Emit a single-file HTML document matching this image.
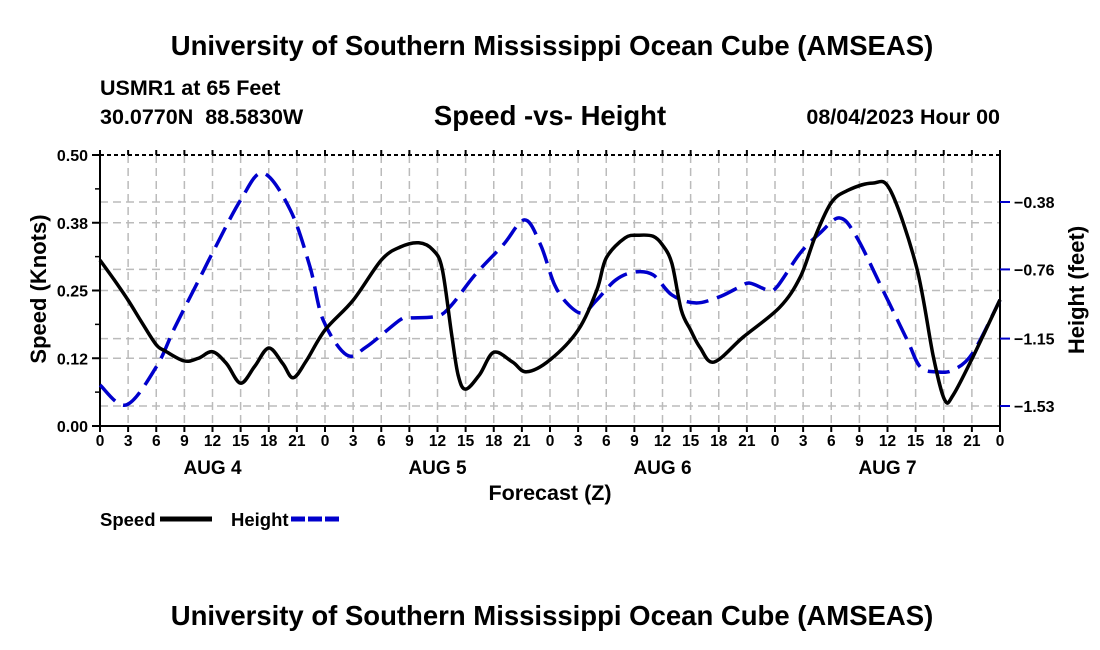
<!DOCTYPE html>
<html><head><meta charset="utf-8"><style>
body{margin:0;background:#fff;}
svg{display:block;font-family:"Liberation Sans",Arial,sans-serif;font-weight:bold;}
</style></head><body>
<svg id="chart" width="1100" height="650" viewBox="0 0 1100 650">
<text x="552" y="55" text-anchor="middle" font-size="27.5">University of Southern Mississippi Ocean Cube (AMSEAS)</text>
<text x="100" y="95" font-size="21.5">USMR1 at 65 Feet</text>
<text x="100" y="124" font-size="21.5" xml:space="preserve">30.0770N  88.5830W</text>
<text x="550" y="125" text-anchor="middle" font-size="27.5">Speed -vs- Height</text>
<text x="1000" y="124" text-anchor="end" font-size="21.5">08/04/2023 Hour 00</text>
<g id="grid"></g><g id="axes"></g><g id="series"></g>
<text x="550" y="500" text-anchor="middle" font-size="21.5">Forecast (Z)</text>
<text transform="translate(46,289) rotate(-90)" text-anchor="middle" font-size="22">Speed (Knots)</text>
<text transform="translate(1084,290) rotate(-90)" text-anchor="middle" font-size="22">Height (feet)</text>
<g>
<text x="100" y="526" font-size="18.5">Speed</text>
<line x1="160" y1="519" x2="212" y2="519" stroke="#000" stroke-width="5"/>
<text x="231" y="526" font-size="18.5">Height</text>
<line x1="291" y1="519" x2="342" y2="519" stroke="#00c" stroke-width="5" stroke-dasharray="14,3"/>
</g>
<text x="552" y="625" text-anchor="middle" font-size="27.5">University of Southern Mississippi Ocean Cube (AMSEAS)</text>
</svg>
<script>
const speedHours=[0,1.5,3,4.5,6,7,9,10.5,12,13.5,15,16.5,18,19.5,20.6,22,24,27,30,32,34,35.5,36.5,37.5,38.2,39,40.5,42,44,45.5,48,51,53,54,56,57.5,59,60,61,62,63,64,65.5,68.6,72.5,74.7,76.3,78,79.8,82.4,84.3,87.1,88.9,90.1,91,93.1,96];
const speedValues=[0.306,0.27,0.232,0.19,0.15,0.138,0.12,0.125,0.137,0.115,0.079,0.11,0.144,0.115,0.089,0.12,0.177,0.232,0.306,0.33,0.338,0.325,0.29,0.17,0.094,0.068,0.095,0.136,0.118,0.1,0.122,0.177,0.251,0.31,0.347,0.352,0.35,0.334,0.3,0.214,0.177,0.145,0.118,0.164,0.219,0.275,0.35,0.412,0.435,0.448,0.435,0.293,0.127,0.048,0.057,0.127,0.233];
const heightHours=[0,2.8,6,8,10.7,12,15,17.4,20.3,22.4,23.8,26.3,28.4,32,33,36,37.5,40,43,45.3,47,48.5,50,51.5,53,55,57,59,61,63.5,66,68,69.3,71.2,72.2,74.7,76.8,78.9,80.7,83.5,86.1,87.5,89.3,91,93.1,96];
const heightValues=[-1.412,-1.524,-1.31,-1.085,-0.803,-0.667,-0.369,-0.217,-0.425,-0.746,-1.045,-1.242,-1.197,-1.045,-1.034,-1.023,-0.961,-0.791,-0.622,-0.481,-0.622,-0.848,-0.961,-1.006,-0.932,-0.82,-0.775,-0.791,-0.904,-0.949,-0.916,-0.865,-0.837,-0.876,-0.859,-0.667,-0.555,-0.47,-0.577,-0.876,-1.158,-1.31,-1.338,-1.327,-1.231,-0.932];
const speedTicks=[0,0.125,0.25,0.375,0.5];
const speedTickLabels=["0.00","0.12","0.25","0.38","0.50"];
const heightTicks=[-0.38,-0.76,-1.15,-1.53];
const heightTickLabels=["\u22120.38","\u22120.76","\u22121.15","\u22121.53"];
const dayLabels=["AUG 4","AUG 5","AUG 6","AUG 7"];

const X0=100,X1=1000,Y0=426,Y1=155;
const xS=h=>X0+(h/96)*(X1-X0);
const yS=v=>Y0-(v/0.5)*(Y0-Y1);
const yH=v=>202+(v-(-0.38))/(-1.53+0.38)*(406-202);
const NS="http://www.w3.org/2000/svg";
function mk(tag,attrs,parent,txt){const e=document.createElementNS(NS,tag);for(const k in attrs)e.setAttribute(k,attrs[k]);if(txt!==undefined)e.textContent=txt;parent.appendChild(e);return e;}
const grid=document.getElementById('grid'),axes=document.getElementById('axes'),series=document.getElementById('series');
const gs={stroke:"#bbb","stroke-width":1.5,"stroke-dasharray":"8,5"};
for(let h=3;h<96;h+=3){const l=mk('line',Object.assign({x1:xS(h),x2:xS(h),y1:Y1,y2:Y0},gs),grid);

}
speedTicks.slice(1,4).forEach(v=>{const l=mk('line',Object.assign({x1:X0,x2:X1,y1:yS(v),y2:yS(v)},gs),grid);

});
heightTicks.forEach(v=>{const l=mk('line',Object.assign({x1:X0,x2:X1,y1:yH(v),y2:yH(v)},gs),grid);

});
mk('line',{x1:X0,x2:X0,y1:Y1,y2:Y0,stroke:"#000","stroke-width":2},axes);
mk('line',{x1:X1,x2:X1,y1:Y1,y2:Y0,stroke:"#000","stroke-width":2},axes);
mk('line',{x1:X0,x2:X1,y1:Y0,y2:Y0,stroke:"#000","stroke-width":2},axes);
mk('line',{x1:X0,x2:X1,y1:Y1,y2:Y1,stroke:"#000","stroke-width":2,"stroke-dasharray":"4,3"},axes);
speedTicks.forEach((v,i)=>{mk('line',{x1:X0-8,x2:X0,y1:yS(v),y2:yS(v),stroke:"#000","stroke-width":2},axes);
const t=mk('text',{x:X0-12,y:yS(v)+6,"text-anchor":"end","font-size":16},axes,speedTickLabels[i]);

});
for(let k=1;k<8;k+=2){mk('line',{x1:X0-5,x2:X0,y1:yS(k*0.0625),y2:yS(k*0.0625),stroke:"#000","stroke-width":1.5},axes);}
heightTicks.forEach((v,i)=>{mk('line',{x1:X1,x2:X1+10,y1:yH(v),y2:yH(v),stroke:"#00c","stroke-width":2},axes);
const t=mk('text',{x:X1+14,y:yH(v)+6,"font-size":16},axes,heightTickLabels[i]);

});
for(let h=0;h<=96;h+=3){mk('line',{x1:xS(h),x2:xS(h),y1:Y0,y2:Y0+6,stroke:"#000","stroke-width":2},axes);
mk('line',{x1:xS(h),x2:xS(h),y1:Y1,y2:Y1-5,stroke:"#000","stroke-width":2},axes);
const t=mk('text',{x:xS(h),y:446,"text-anchor":"middle","font-size":15.5},axes,String(h%24));

}
dayLabels.forEach((d,i)=>{const t=mk('text',{x:xS(i*24+12),y:474,"text-anchor":"middle","font-size":19},axes,d);

});
function smooth(pts){let d=`M${pts[0][0]},${pts[0][1]}`;for(let i=0;i<pts.length-1;i++){const p0=pts[Math.max(0,i-1)],p1=pts[i],p2=pts[i+1],p3=pts[Math.min(pts.length-1,i+2)];
const c1=[p1[0]+(p2[0]-p0[0])/6,p1[1]+(p2[1]-p0[1])/6],c2=[p2[0]-(p3[0]-p1[0])/6,p2[1]-(p3[1]-p1[1])/6];
d+=` C${c1[0]},${c1[1]} ${c2[0]},${c2[1]} ${p2[0]},${p2[1]}`;}return d;}
const hp=mk('path',{d:smooth(heightHours.map((h,i)=>[xS(h),yH(heightValues[i])])),fill:"none",stroke:"#00c","stroke-width":3.5,"stroke-dasharray":"22,9"},series);


const sp=mk('path',{d:smooth(speedHours.map((h,i)=>[xS(h),yS(speedValues[i])])),fill:"none",stroke:"#000","stroke-width":3.5},series);


</script>
</body></html>
